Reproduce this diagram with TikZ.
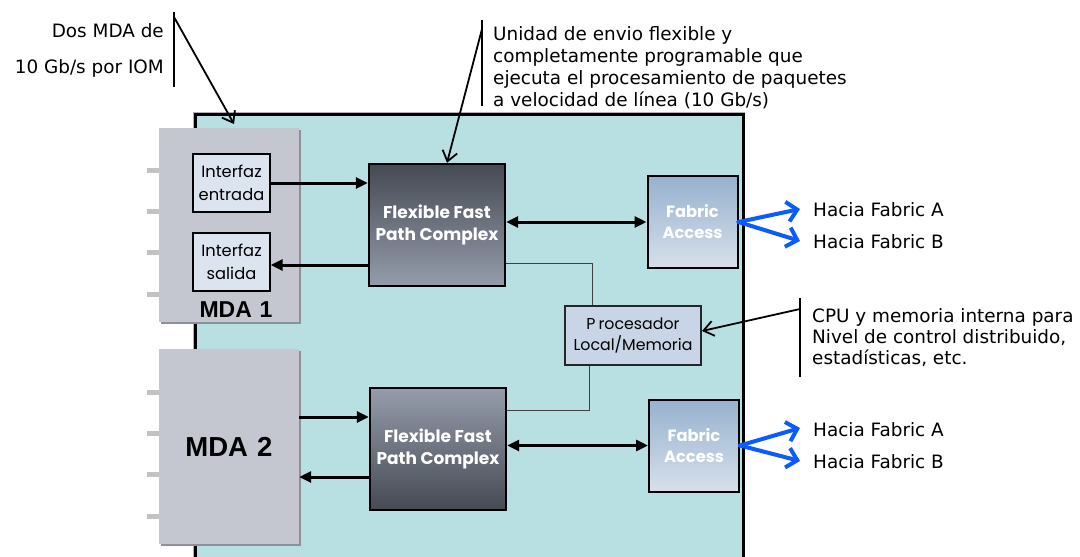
\documentclass[tikz,border=0pt]{standalone}
\usepackage{fontspec}
\setmainfont{DejaVu Sans}
\newfontfamily\geofont{Poppins}
\newfontfamily\arialfont{Liberation Sans}
\usetikzlibrary{arrows.meta,shadows,calc}

\definecolor{panelteal}{HTML}{B8DFE2}
\definecolor{mdagray}{HTML}{C4C7D0}
\definecolor{mdashadow}{HTML}{8D9098}
\definecolor{pingray}{HTML}{C2C2C2}
\definecolor{ifacefill}{HTML}{DCE4EF}
\definecolor{ffpcdark}{HTML}{454A53}
\definecolor{ffpclight}{HTML}{959CAB}
\definecolor{fatop}{HTML}{97B1CF}
\definecolor{fabottom}{HTML}{D6E0EB}
\definecolor{procfill}{HTML}{C8D5E6}
\definecolor{fabricblue}{HTML}{0A5CFF}

\tikzset{
  mdabox/.style={fill=mdagray, draw=none, minimum width=140pt,
    drop shadow={shadow xshift=2pt, shadow yshift=-2pt, fill=mdashadow, opacity=1}},
  ifacebox/.style={fill=ifacefill, draw=black, line width=1.4pt,
    minimum width=77pt, minimum height=58pt, align=center, inner sep=0pt,
    font=\geofont\fontsize{16.3}{23}\selectfont},
  ffpcbox/.style={draw=black, line width=2.4pt, minimum width=136pt,
    minimum height=122pt, align=center, text=white, inner sep=0pt,
    font=\geofont\bfseries\fontsize{17}{22}\selectfont},
  fabox/.style={draw=black, line width=2pt, minimum width=90pt,
    minimum height=92pt, align=center, text=white, top color=fatop,
    bottom color=fabottom, inner sep=0pt,
    font=\geofont\bfseries\fontsize{16.3}{21}\selectfont},
  procbox/.style={fill=procfill, draw=black!85, line width=2pt,
    minimum width=136pt, minimum height=59pt, align=center, inner sep=0pt,
    font=\geofont\fontsize{15.8}{21}\selectfont},
  bus/.style={line width=3pt, -{Triangle[length=12pt,width=11pt]}},
  dbus/.style={line width=3pt, {Triangle[length=12pt,width=11pt]}-{Triangle[length=12pt,width=11pt]}},
  thinlink/.style={line width=1pt, draw=black!75},
  notebar/.style={line width=1.8pt},
  notearrow/.style={line width=1.8pt, -{Straight Barb[length=10pt,width=15pt,line width=1.8pt]}},
  bluearrow/.style={line width=4pt, draw=fabricblue, line cap=round,
    -{Straight Barb[length=10pt,width=20pt,line width=4pt]}},
  notetext/.style={font=\fontsize{18.4}{22}\selectfont, inner sep=0pt},
  pin/.style={fill=pingray}
}

\begin{document}
\begin{tikzpicture}[x=1pt,y=-1pt]
\useasboundingbox (0,0) rectangle (1080,557);
\clip (0,0) rectangle (1080,557);

% main board
\fill[black!30] (193,112) rectangle (745,580);
\fill[panelteal] (195,114) rectangle (743,580);
\draw[line width=3pt] (195,580) -- (195,114) -- (743,114) -- (743,580);

% connector pins on the MDA cards
\foreach \py in {170,211,252,294,392,433,474,516}
  \fill[pin] (147,\py-2.5) rectangle (159,\py+2.5);

% MDA cards
\node[mdabox, minimum height=194pt] (mda1) at (229,225) {};
\node[mdabox, minimum height=195pt, font=\arialfont\bfseries\fontsize{27.5}{30}\selectfont] (mda2) at (229,446.5) {MDA\,\,2};
\node[font=\arialfont\bfseries\fontsize{23}{26}\selectfont] (mda1lbl) at (236,310) {MDA\,\,1};

\node[ifacebox] (inE) at (231.5,183) {Interfaz\\entrada};
\node[ifacebox] (inS) at (231.5,262) {Interfaz\\salida};

% forwarding complexes
\node[ffpcbox, top color=ffpcdark, bottom color=ffpclight] (ffpc1) at (437,225) {Flexible Fast\\Path Complex};
\node[ffpcbox, top color=ffpclight, bottom color=ffpcdark] (ffpc2) at (438,449) {Flexible Fast\\Path Complex};

% fabric access
\node[fabox] (fa1) at (692.5,222) {Fabric\\Access};
\node[fabox] (fa2) at (694,445.5) {Fabric\\Access};

% local processor
\node[procbox] (proc) at (633,335) {P\hspace{3pt}rocesador\\Local/Memoria};

% data paths
\draw[bus] (inE.east) -- (inE.east -| ffpc1.west);
\draw[bus] ([yshift=-40pt]ffpc1.west) -- ([yshift=-40pt]ffpc1.west -| inS.east);
\draw[dbus] (ffpc1.east |- fa1.west) -- (fa1.west);
\draw[bus] ([yshift=32pt]ffpc2.west -| mda2.east) -- ([yshift=32pt]ffpc2.west);
\draw[bus] ([yshift=-28pt]ffpc2.west) -- ([yshift=-28pt]ffpc2.west -| mda2.east);
\draw[dbus] (ffpc2.east |- fa2.west) -- (fa2.west);

% control links to the processor
\draw[thinlink] ([yshift=-38pt]ffpc1.east) -| ([xshift=-41pt]proc.north);
\draw[thinlink] ([xshift=-44pt]proc.south) |- ([yshift=39pt]ffpc2.east);

% links towards the switch fabrics
\coordinate (fa1A) at (800,209);
\coordinate (fa1B) at (800,241);
\coordinate (fa2A) at (800,428);
\coordinate (fa2B) at (800,461);
\draw[bluearrow] (fa1.east) -- (fa1A);
\draw[bluearrow] (fa1.east) -- (fa1B);
\draw[bluearrow] (fa2.east) -- (fa2A);
\draw[bluearrow] (fa2.east) -- (fa2B);
\node[notetext, anchor=base west] (tA1) at (813,216) {Hacia Fabric A};
\node[notetext, anchor=base west] (tB1) at (813,248) {Hacia Fabric B};
\node[notetext, anchor=base west] (tA2) at (813,436) {Hacia Fabric A};
\node[notetext, anchor=base west] (tB2) at (813,468) {Hacia Fabric B};

% annotation: MDA cards
\node[notetext, anchor=base east] (n1a) at (164,37) {Dos MDA de};
\node[notetext, anchor=base east] (n1b) at (164,73) {10 Gb/s por IOM};
\coordinate (bar1t) at (174,12);
\coordinate (bar1b) at (174,87);
\draw[notebar] (bar1t) -- (bar1b);
\coordinate (tip1) at (234,124);
\draw[notearrow] ([yshift=-5pt]bar1t) -- (tip1);

% annotation: forwarding complex
\node[notetext, anchor=base west] (n2a) at (493,40) {Unidad de envio flexible y};
\node[notetext, anchor=base west] (n2b) at (493,62) {completamente programable que};
\node[notetext, anchor=base west] (n2c) at (493,84) {ejecuta el procesamiento de paquetes};
\node[notetext, anchor=base west] (n2d) at (493,106) {a velocidad de línea (10 Gb/s)};
\coordinate (bar2t) at (482,20);
\coordinate (bar2b) at (482,106);
\draw[notebar] (bar2t) -- (bar2b);
\draw[notearrow] ([yshift=-9pt]bar2t) -- ([xshift=10pt]ffpc1.north);

% annotation: processor
\node[notetext, anchor=base west] (n3a) at (812,322) {CPU y memoria interna para};
\node[notetext, anchor=base west] (n3b) at (812,343) {Nivel de control distribuido,};
\node[notetext, anchor=base west] (n3c) at (812,364) {estadísticas, etc.};
\coordinate (bar3t) at (800,298);
\coordinate (bar3b) at (800,377);
\draw[notebar] (bar3t) -- (bar3b);
\draw[notearrow] ([yshift=-11pt]bar3t) -- ([yshift=4pt]proc.east);
\end{tikzpicture}
\end{document}
